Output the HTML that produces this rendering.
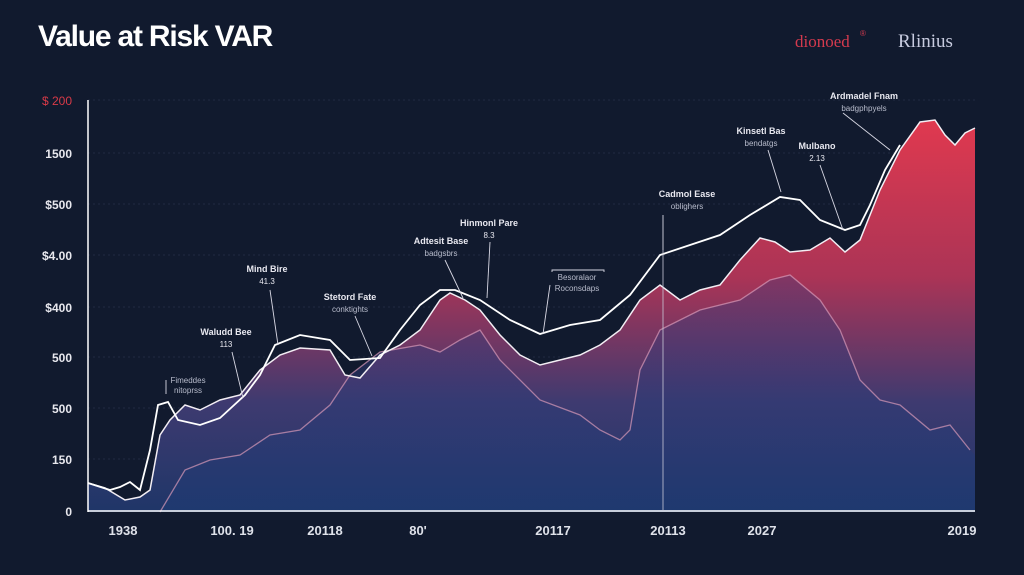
<!DOCTYPE html>
<html><head><meta charset="utf-8"><style>
html,body{margin:0;padding:0;background:#111a2e;}
body{width:1024px;height:570px;overflow:hidden;font-family:"Liberation Sans",sans-serif;}
</style></head><body>
<svg width="1024" height="570" viewBox="0 0 1024 570" xmlns="http://www.w3.org/2000/svg">
<defs>
<linearGradient id="ar" x1="0" y1="120" x2="0" y2="512" gradientUnits="userSpaceOnUse">
<stop offset="0" stop-color="#e0394f"/>
<stop offset="0.4" stop-color="#ab3456"/>
<stop offset="0.72" stop-color="#3e3a70"/>
<stop offset="1" stop-color="#1f3668"/>
</linearGradient>
<linearGradient id="ar2" x1="0" y1="260" x2="0" y2="512" gradientUnits="userSpaceOnUse">
<stop offset="0" stop-color="#40397a" stop-opacity="0.35"/>
<stop offset="1" stop-color="#1e3a72" stop-opacity="0.7"/>
</linearGradient>
</defs>
<rect width="1024" height="570" fill="#111a2e"/>
<text x="38" y="46" font-size="30" font-weight="bold" fill="#fff" letter-spacing="-1.2">Value at Risk VAR</text>
<text x="795" y="47" font-size="17" fill="#d43a4e" font-family="Liberation Serif,serif">dionoed</text>
<text x="860" y="36" font-size="8" fill="#d43a4e">®</text>
<text x="898" y="47" font-size="19" fill="#c8cce0" font-family="Liberation Serif,serif">Rlinius</text>
<g stroke="#2c3650" stroke-width="1" stroke-dasharray="2,3" opacity="0.6">
<line x1="88" y1="100" x2="975" y2="100"/><line x1="88" y1="153" x2="975" y2="153"/>
<line x1="88" y1="204" x2="975" y2="204"/><line x1="88" y1="255" x2="975" y2="255"/>
<line x1="88" y1="307" x2="975" y2="307"/><line x1="88" y1="357" x2="975" y2="357"/>
<line x1="88" y1="408" x2="975" y2="408"/><line x1="88" y1="459" x2="975" y2="459"/>
</g>
<path fill="url(#ar)" d="M88,483 L105,488 L125,500 L140,497 L150,490 L160,435 L170,420 L185,405 L200,410 L220,400 L240,395 L260,370 L280,355 L300,348 L330,350 L345,375 L360,378 L380,355 L400,345 L420,330 L440,300 L450,293 L465,300 L480,310 L500,335 L520,355 L540,365 L560,360 L580,355 L600,345 L620,330 L640,300 L660,285 L680,300 L700,290 L720,285 L740,260 L760,238 L775,242 L790,252 L810,250 L830,238 L845,252 L860,240 L880,190 L900,150 L920,122 L935,120 L945,135 L955,145 L965,133 L975,128 L975,512 L88,512 Z"/>
<path fill="url(#ar2)" d="M160,512 L185,470 L210,460 L240,455 L270,435 L300,430 L330,405 L350,375 L380,352 L420,345 L440,352 L460,340 L480,330 L500,360 L540,400 L580,415 L600,430 L620,440 L630,430 L640,370 L660,330 L700,310 L740,300 L770,280 L790,275 L820,300 L840,330 L860,380 L880,400 L900,405 L930,430 L950,425 L970,450 L975,455 L975,512 Z"/>
<polyline fill="none" stroke="#d89ab8" stroke-width="1.3" opacity="0.7" points="160,512 185,470 210,460 240,455 270,435 300,430 330,405 350,375 380,352 420,345 440,352 460,340 480,330 500,360 540,400 580,415 600,430 620,440 630,430 640,370 660,330 700,310 740,300 770,280 790,275 820,300 840,330 860,380 880,400 900,405 930,430 950,425 970,450"/>
<polyline fill="none" stroke="#f3eef4" stroke-width="1.5" points="88,483 105,488 125,500 140,497 150,490 160,435 170,420 185,405 200,410 220,400 240,395 260,370 280,355 300,348 330,350 345,375 360,378 380,355 400,345 420,330 440,300 450,293 465,300 480,310 500,335 520,355 540,365 560,360 580,355 600,345 620,330 640,300 660,285 680,300 700,290 720,285 740,260 760,238 775,242 790,252 810,250 830,238 845,252 860,240 880,190 900,150 920,122 935,120 945,135 955,145 965,133 975,128"/>
<polyline fill="none" stroke="#ffffff" stroke-width="1.8" points="88,483 110,490 120,487 130,482 140,490 150,450 158,405 168,402 178,420 200,425 220,418 245,395 260,375 275,345 300,335 330,340 350,360 380,358 400,330 420,305 440,290 455,290 480,300 510,320 540,334 570,325 600,320 630,295 660,255 690,245 720,235 750,215 780,197 800,200 820,220 845,230 860,225 870,205 885,170 900,145"/>
<line x1="88" y1="100" x2="88" y2="512" stroke="#fff" stroke-width="1.5"/>
<line x1="88" y1="511" x2="975" y2="511" stroke="#fff" stroke-width="1.5"/>
<line x1="663" y1="250" x2="663" y2="511" stroke="#c8c8d8" stroke-width="0.8"/>
<g font-size="12" font-weight="bold" fill="#e8e8ee" text-anchor="end">
<text x="72" y="105" fill="#d83a48" font-weight="normal">$ 200</text>
<text x="72" y="158">1500</text><text x="72" y="209">$500</text>
<text x="72" y="260">$4.00</text><text x="72" y="312">$400</text>
<text x="72" y="362">500</text><text x="72" y="413">500</text>
<text x="72" y="464">150</text><text x="72" y="516">0</text>
</g>
<g font-size="13" font-weight="bold" fill="#dfe2ea" text-anchor="middle">
<text x="123" y="535">1938</text><text x="232" y="535">100. 19</text>
<text x="325" y="535">20118</text><text x="418" y="535">80'</text>
<text x="553" y="535">20117</text><text x="668" y="535">20113</text>
<text x="762" y="535">2027</text><text x="962" y="535">2019</text>
</g>
<g font-size="9" font-weight="bold" fill="#e8e8f0" text-anchor="middle">
<text x="864" y="99">Ardmadel Fnam</text><text x="864" y="111" font-size="8" font-weight="normal" fill="#b8bccc">badgphpyels</text>
<text x="761" y="134">Kinsetl Bas</text><text x="761" y="146" font-size="8" font-weight="normal" fill="#b8bccc">bendatgs</text>
<text x="817" y="149">Mulbano</text><text x="817" y="161" font-size="8" font-weight="normal">2.13</text>
<text x="687" y="197">Cadmol Ease</text><text x="687" y="209" font-size="8" font-weight="normal" fill="#b8bccc">oblighers</text>
<text x="489" y="226">Hinmonl Pare</text><text x="489" y="238" font-size="8" font-weight="normal">8.3</text>
<text x="441" y="244">Adtesit Base</text><text x="441" y="256" font-size="8" font-weight="normal" fill="#b8bccc">badgsbrs</text>
<text x="577" y="280" font-size="8" font-weight="normal" fill="#b8bccc">Besoralaor</text><text x="577" y="291" font-size="8" font-weight="normal" fill="#b8bccc">Roconsdaps</text>
<text x="267" y="272">Mind Bire</text><text x="267" y="284" font-size="8" font-weight="normal">41.3</text>
<text x="350" y="300">Stetord Fate</text><text x="350" y="312" font-size="8" font-weight="normal" fill="#b8bccc">conktights</text>
<text x="226" y="335">Waludd Bee</text><text x="226" y="347" font-size="8" font-weight="normal">113</text>
<text x="188" y="383" font-size="8" font-weight="normal" fill="#b8bccc">Fimeddes</text><text x="188" y="393" font-size="8" font-weight="normal" fill="#b8bccc">nitoprss</text>
</g>
<g stroke="#d8d8e4" stroke-width="0.9" fill="none">
<line x1="843" y1="113" x2="890" y2="150"/><line x1="768" y1="150" x2="781" y2="192"/>
<line x1="820" y1="165" x2="843" y2="230"/><line x1="663" y1="215" x2="663" y2="250"/>
<line x1="490" y1="242" x2="487" y2="298"/><line x1="445" y1="260" x2="463" y2="298"/>
<line x1="550" y1="285" x2="543" y2="334"/><line x1="270" y1="290" x2="278" y2="345"/>
<line x1="355" y1="316" x2="372" y2="356"/><line x1="232" y1="352" x2="243" y2="398"/>
<polyline points="552,272 552,270 604,270 604,272"/><polyline points="166,380 166,394"/>
</g>
</svg>
</body></html>
